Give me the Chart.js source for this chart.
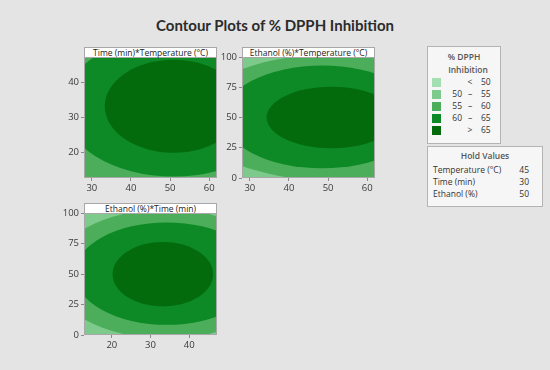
<!DOCTYPE html>
<html>
<head>
<meta charset="utf-8">
<script src="https://cdn.jsdelivr.net/npm/chart.js@4.4.1/dist/chart.umd.min.js"></script>
<style>
  body { margin: 0; background: #e4e4e4; }
  #wrap { position: relative; width: 550px; height: 370px; background: #e4e4e4; font-family: "Open Sans", sans-serif; color: #333; overflow: hidden; }
  #titulo { position: absolute; left: 0; top: 16px; width: 550px; text-align: center; font-family: Lato, sans-serif; font-weight: bold; font-size: 15px; color: #2b2b2b; }
  canvas { position: absolute; }
  .tira { position: absolute; height: 9px; background: #fff; border: 1px solid #a8a8a8; font-size: 8.5px; line-height: 9px; text-align: center; color: #222; white-space: nowrap; }
  .caja { position: absolute; background: #f6f6f6; border: 1px solid #b4b4b4; font-size: 8.5px; color: #333; }
  .caja span { position: absolute; white-space: nowrap; }
</style>
</head>
<body>
<div id="wrap">
  <div id="titulo">Contour Plots of % DPPH Inhibition</div>

  <canvas id="g1" width="171" height="147" style="left:54px;top:49px"></canvas>
  <canvas id="g2" width="171" height="147" style="left:212px;top:49px"></canvas>
  <canvas id="g3" width="171" height="148" style="left:54px;top:205px"></canvas>

  <div class="tira" style="left:84px;top:47px;width:131px">Time (min)*Temperature (°C)</div>
  <div class="tira" style="left:242px;top:47px;width:131px">Ethanol (%)*Temperature (°C)</div>
  <div class="tira" style="left:84px;top:203px;width:131px">Ethanol (%)*Time (min)</div>

  <div class="caja" id="leyenda" style="left:427px;top:46px;width:72px;height:96px"></div>
  <div class="caja" id="hold" style="left:427px;top:146px;width:114px;height:59px"></div>
</div>

<script>
// niveles de contorno (% DPPH Inhibition)
const nivelLow = ['', '50', '55', '60', ''];
const nivelSep = ['<', '–', '–', '–', '>'];
const nivelHigh = ['50', '55', '60', '65', '65'];
const nivelColores = ['#a3dfb3', '#7dca8c', '#4cae5a', '#0d8a26', '#036b0c'];

// valores fijos
const holdNombres = ['Temperature (°C)', 'Time (min)', 'Ethanol (%)'];
const holdValores = [45, 30, 50];

// rangos y ticks de cada factor
const tempRango = [28, 62];
const timeRango = [12.8, 47.2];
const etanolRango = [0, 100];
const tempTicks = [30, 40, 50, 60];
const timeTicksY = [20, 30, 40];
const timeTicksX = [20, 30, 40];
const etanolTicks = [0, 25, 50, 75, 100];

// Time (min) vs Temperature (°C): elipses por nivel (50-55, 55-60, 60-65, >65)
const p1Nivel = [1, 2, 3, 4];
const p1Cx = [50, 50, 50.9, 50.9];
const p1Cy = [33, 33, 33.2, 33.2];
const p1Rx = [55, 40, 28.4, 17.6];
const p1Ry = [45, 32, 20, 13.2];

// Ethanol (%) vs Temperature (°C)
const p2Nivel = [1, 2, 3, 4];
const p2Cx = [50, 51, 48.5, 50.9];
const p2Cy = [50, 50, 50.5, 50];
const p2Rx = [48, 36, 25.3, 16.6];
const p2Ry = [75, 52, 42.5, 25.5];

// Ethanol (%) vs Time (min)
const p3Nivel = [1, 2, 3, 4];
const p3Cx = [34, 34, 34.2, 33.2];
const p3Cy = [50, 50, 50.3, 49.8];
const p3Rx = [40, 29.5, 23.8, 13];
const p3Ry = [75, 53, 42, 26.5];

const fuente = "'Open Sans', sans-serif";

function pluginContornos(nivel, cx, cy, rx, ry) {
    return {
        id: 'contornos',
        beforeDatasetsDraw(chart) {
            const ctx = chart.ctx;
            const area = chart.chartArea;
            const sx = chart.scales.x;
            const sy = chart.scales.y;
            ctx.save();
            ctx.beginPath();
            ctx.rect(area.left, area.top, area.right - area.left, area.bottom - area.top);
            ctx.clip();
            ctx.fillStyle = nivelColores[0];
            ctx.fillRect(area.left, area.top, area.right - area.left, area.bottom - area.top);
            for (let i = 0; i < nivel.length; i++) {
                const px = sx.getPixelForValue(cx[i]);
                const py = sy.getPixelForValue(cy[i]);
                const prx = Math.abs(sx.getPixelForValue(cx[i] + rx[i]) - px);
                const pry = Math.abs(sy.getPixelForValue(cy[i] + ry[i]) - py);
                ctx.beginPath();
                ctx.ellipse(px, py, prx, pry, 0, 0, Math.PI * 2);
                ctx.fillStyle = nivelColores[nivel[i]];
                ctx.fill();
            }
            ctx.restore();
            ctx.strokeStyle = '#a8a8a8';
            ctx.lineWidth = 1;
            ctx.strokeRect(area.left + 0.5, area.top + 0.5, area.right - area.left - 1, area.bottom - area.top - 1);
        }
    };
}

function ejeConfig(rango, ticks, esX) {
    return {
        type: 'linear',
        min: rango[0],
        max: rango[1],
        afterBuildTicks: s => { s.ticks = ticks.map(v => ({ value: v })); },
        afterFit: s => { if (esX) s.height = 18; else s.width = 30; },
        grid: { drawOnChartArea: false, drawTicks: true, tickLength: 3, color: '#8a8a8a' },
        border: { display: false },
        ticks: { font: { family: fuente, size: 9.5 }, color: '#3a3a3a', padding: 2, maxRotation: 0 }
    };
}

function crearPanel(id, xRango, xTicks, yRango, yTicks, nivel, cx, cy, rx, ry) {
    const ctx = document.getElementById(id).getContext('2d');
    return new Chart(ctx, {
        type: 'scatter',
        data: { datasets: [] },
        options: {
            responsive: false,
            animation: false,
            layout: { padding: { top: 8, right: 8, left: 0, bottom: 0 } },
            plugins: { legend: { display: false }, tooltip: { enabled: false } },
            scales: {
                x: ejeConfig(xRango, xTicks, true),
                y: ejeConfig(yRango, yTicks, false)
            }
        },
        plugins: [pluginContornos(nivel, cx, cy, rx, ry)]
    });
}

crearPanel('g1', tempRango, tempTicks, timeRango, timeTicksY, p1Nivel, p1Cx, p1Cy, p1Rx, p1Ry);
crearPanel('g2', tempRango, tempTicks, etanolRango, etanolTicks, p2Nivel, p2Cx, p2Cy, p2Rx, p2Ry);
crearPanel('g3', timeRango, timeTicksX, etanolRango, etanolTicks, p3Nivel, p3Cx, p3Cy, p3Rx, p3Ry);

// leyenda
const leyenda = document.getElementById('leyenda');
let html = '<span style="left:0;width:72px;text-align:center;top:4px;font-weight:600;color:#555">% DPPH</span>' +
           '<span style="left:0;width:72px;text-align:center;top:17px;font-weight:600;color:#555;padding-left:8px;box-sizing:border-box">Inhibition</span>';
for (let i = 0; i < nivelColores.length; i++) {
    const top = 31 + i * 12;
    html += `<span style="left:4px;top:${top}px;width:9px;height:9px;background:${nivelColores[i]}"></span>`;
    html += `<span style="left:16px;top:${top - 2}px;width:18px;text-align:right">${nivelLow[i]}</span>`;
    html += `<span style="left:37px;top:${top - 2}px;width:10px;text-align:center">${nivelSep[i]}</span>`;
    html += `<span style="left:53px;top:${top - 2}px">${nivelHigh[i]}</span>`;
}
leyenda.innerHTML = html;

// hold values
const hold = document.getElementById('hold');
let h = '<span style="left:0;width:114px;text-align:center;top:3px;font-weight:600;color:#555">Hold Values</span>';
for (let i = 0; i < holdNombres.length; i++) {
    const top = 17 + i * 12;
    h += `<span style="left:5px;top:${top}px">${holdNombres[i]}</span>`;
    h += `<span style="right:13px;top:${top}px">${holdValores[i]}</span>`;
}
hold.innerHTML = h;
</script>
</body>
</html>
